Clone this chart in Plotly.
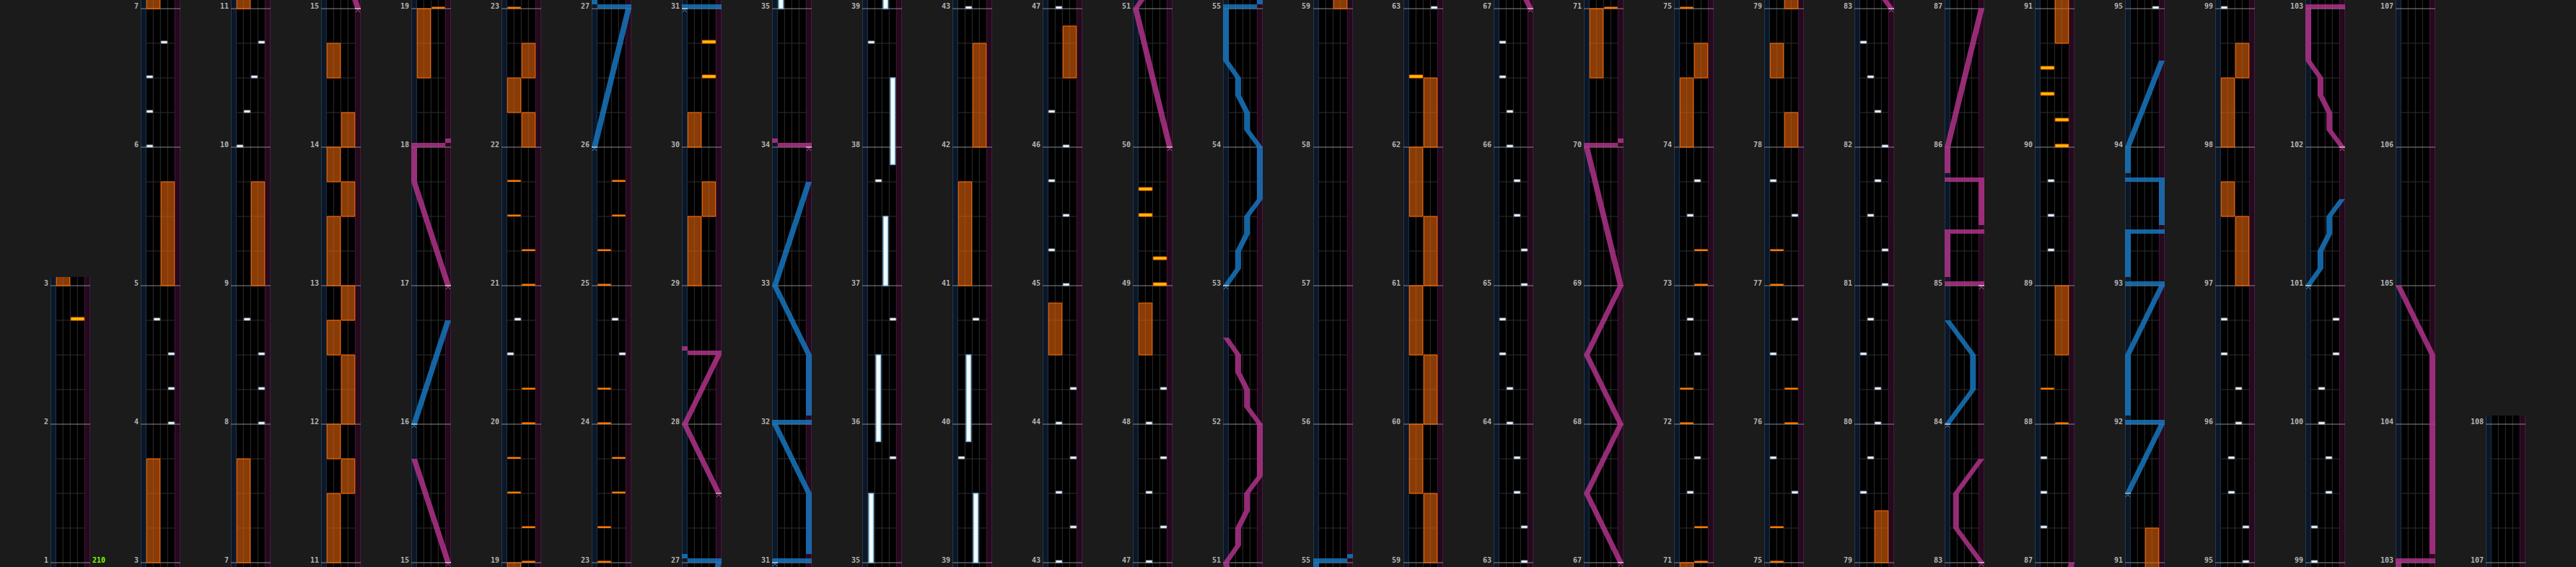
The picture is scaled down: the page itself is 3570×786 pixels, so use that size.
import plotly.graph_objects as go

# ---------------- chart data ----------------
bpm_label = "210"

# BT chips: (measure time, lane 0..3)
bt_chips = [
    (4.0, 3), (4.25, 3), (4.5, 3), (4.75, 1),
    (6.0, 0), (6.25, 0), (6.5, 0), (6.75, 2),
    (8.0, 3), (8.25, 3), (8.5, 3), (8.75, 1),
    (10.0, 0), (10.25, 1), (10.5, 2), (10.75, 3),
    (20.5, 0), (20.75, 1),
    (24.5, 3), (24.75, 2),
    (35.75, 3), (36.75, 3), (37.75, 1), (38.75, 0), (39.75, 0), (40.75, 2),
    (43.0, 1), (43.25, 3), (43.5, 1), (43.75, 3), (44.0, 1), (44.25, 3),
    (45.0, 2), (45.25, 0), (45.5, 2), (45.75, 0), (46.0, 2), (46.25, 0),
    (47.0, 1), (47.25, 3), (47.5, 1), (47.75, 3), (48.0, 1), (48.25, 3),
    (63.0, 3), (63.25, 3), (63.5, 2), (63.75, 2),
    (64.0, 1), (64.25, 1), (64.5, 0), (64.75, 0),
    (65.0, 3), (65.25, 3), (65.5, 2), (65.75, 2),
    (66.0, 1), (66.25, 1), (66.5, 0), (66.75, 0),
    (71.5, 1), (71.75, 2), (72.5, 2), (72.75, 1), (73.5, 1), (73.75, 2),
    (75.5, 3), (75.75, 0), (76.5, 0), (76.75, 3), (77.5, 3), (77.75, 0),
    (79.5, 0), (79.75, 1),
    (80.0, 2), (80.25, 2), (80.5, 0), (80.75, 1),
    (81.0, 3), (81.25, 3), (81.5, 1), (81.75, 2),
    (82.0, 3), (82.25, 2), (82.5, 1), (82.75, 0),
    (87.25, 0), (87.5, 0), (87.75, 0),
    (89.25, 1), (89.5, 1), (89.75, 1),
    (95.0, 3), (95.25, 3), (95.5, 1), (95.75, 1),
    (96.0, 2), (96.25, 2), (96.5, 0), (96.75, 0),
    (99.0, 0), (99.25, 0), (99.5, 2), (99.75, 2),
    (100.0, 1), (100.25, 1), (100.5, 3), (100.75, 3),
]

# FX chips: (time, side 0=L 1=R, kind 0=plain 1=effect)
fx_chips = [
    (2.75, 1, 1),
    (19.0, 1, 0), (19.25, 1, 0), (19.5, 0, 0), (19.75, 0, 0),
    (20.0, 1, 0), (20.25, 1, 0),
    (21.0, 1, 0), (21.25, 1, 0), (21.5, 0, 0), (21.75, 0, 0),
    (23.0, 0, 0), (23.25, 0, 0), (23.5, 1, 0), (23.75, 1, 0),
    (24.0, 0, 0), (24.25, 0, 0),
    (25.0, 0, 0), (25.25, 0, 0), (25.5, 1, 0), (25.75, 1, 0),
    (30.5, 1, 1), (30.75, 1, 1),
    (49.0, 1, 1), (49.1875, 1, 1), (49.5, 0, 1), (49.6875, 0, 1),
    (62.5, 0, 1),
    (71.0, 1, 0), (71.25, 1, 0), (72.0, 0, 0), (72.25, 0, 0), (73.0, 1, 0), (73.25, 1, 0),
    (75.0, 0, 0), (75.25, 0, 0), (76.0, 1, 0), (76.25, 1, 0), (77.0, 0, 0), (77.25, 0, 0),
    (88.0, 1, 0), (88.25, 0, 0),
    (90.0, 1, 1), (90.1875, 1, 1), (90.375, 0, 1), (90.5625, 0, 1),
]

# FX holds: (start, end, side)
fx_holds = [
    (3.0, 3.75, 0), (5.0, 5.75, 1), (7.0, 7.75, 0), (9.0, 9.75, 1),
    (11.0, 11.5, 0), (11.5, 11.75, 1), (11.75, 12.0, 0), (12.0, 12.5, 1),
    (12.5, 12.75, 0), (12.75, 13.0, 1), (13.0, 13.5, 0), (13.5, 13.75, 1),
    (13.75, 14.0, 0), (14.0, 14.25, 1), (14.5, 14.75, 0),
    (18.5, 19.0, 0),
    (22.0, 22.25, 1), (22.25, 22.5, 0), (22.5, 22.75, 1),
    (29.0, 29.5, 0), (29.5, 29.75, 1), (30.0, 30.25, 0),
    (41.0, 41.75, 0), (42.0, 42.75, 1),
    (44.5, 44.875, 0), (46.5, 46.875, 1), (48.5, 48.875, 0),
    (59.0, 59.5, 1), (59.5, 60.0, 0), (60.0, 60.5, 1), (60.5, 61.0, 0),
    (61.0, 61.5, 1), (61.5, 62.0, 0), (62.0, 62.5, 1),
    (70.5, 71.0, 0),
    (74.0, 74.5, 0), (74.5, 74.75, 1),
    (78.0, 78.25, 1), (78.5, 78.75, 0), (79.0, 79.375, 1),
    (88.5, 89.0, 1), (90.75, 91.25, 1),
    (97.0, 97.5, 1), (97.5, 97.75, 0), (98.0, 98.5, 0), (98.5, 98.75, 1),
]

# BT holds: (start, end, lane)
bt_holds = [
    (35.0, 35.5, 0), (35.875, 36.5, 1), (37.0, 37.5, 2),
    (37.875, 38.5, 3), (39.0, 39.5, 2), (39.875, 40.5, 1),
]

# Lasers: lists of (time, position 0..1); equal times = slam
left_lasers = [
    [(16, 0), (16.75, 1)],
    [(26, 0), (27, 1), (27, 0)],
    [(31, 0), (31, 1), (31.5, 1), (32, 0), (32, 1), (32.5, 1), (33, 0), (33.75, 1)],
    [(53, 0), (53.125, 0.36), (53.25, 0.36), (53.375, 0.62), (53.5, 0.62), (53.625, 1),
     (54, 1), (54.125, 0.62), (54.25, 0.62), (54.375, 0.36), (54.5, 0.36), (54.625, 0),
     (55, 0), (55, 1)],
    [(84, 0), (84.25, 0.75), (84.5, 0.75), (84.75, 0)],
    [(91.5, 0), (92, 1), (92, 0), (92.5, 0), (93, 1), (93, 0), (93.375, 0), (93.375, 1),
     (93.75, 1), (93.75, 0), (94, 0), (94.625, 1)],
    [(101, 0), (101.125, 0.36), (101.25, 0.36), (101.375, 0.62), (101.5, 0.62), (101.625, 1)],
]
right_lasers = [
    [(15, 1), (15.75, 0)],
    [(17, 1), (17.75, 0), (18, 0), (18, 1)],
    [(27.5, 1), (28, 0), (28.5, 1), (28.5, 0)],
    [(34, 1), (34, 0)],
    [(50, 1), (51, 0), (51.125, 0.36), (51.25, 0.36), (51.375, 0.62), (51.5, 0.62), (51.625, 1),
     (52, 1), (52.125, 0.62), (52.25, 0.62), (52.375, 0.36), (52.5, 0.36), (52.625, 0)],
    [(67, 1), (67.5, 0), (68, 1), (68.5, 0), (69, 1), (70, 0), (70, 1)],
    [(83, 1), (83.25, 0.25), (83.5, 0.25), (83.75, 1)],
    [(85, 1), (85, 0), (85.375, 0), (85.375, 1), (85.75, 1), (85.75, 0), (86, 0), (87, 1)],
    [(102, 1), (102.125, 0.62), (102.25, 0.62), (102.375, 0.36), (102.5, 0.36), (102.625, 0),
     (103, 0), (103, 1), (104.5, 1), (105, 0)],
]

# columns: (first measure line, last measure line)
columns = [(1, 3)] + [(4 * k - 1, 4 * k + 3) for k in range(1, 27)] + [(107, 108)]

# ---------------- geometry & style ----------------
W, H = 3570, 786
PXM = 192.0
COL_LEFT, COL_STEP, COL_W = 70, 125, 55
LL_W = 7.3
BT_LEFT, BT_W = 7.3, 10.0
RL_LEFT = 47.3
PAD_BOT, PAD_TOP = 6 / PXM, 12 / PXM
HW = 4.0
SLAM_H, TAIL_H = 6 / PXM, 12 / PXM

BG = '#1b1b1b'
L_FILL, L_EDGE = '#0c1626', '#1d3a52'
R_FILL, R_EDGE = '#230a1c', '#4a1840'
GRID = '#2e2e2e'
MLINE = '#8a8a8a'
LABEL = '#b4b4b4'
BLUE = 'rgba(24,122,196,0.82)'
PINK = 'rgba(182,52,142,0.82)'
BLUE_MARK = '#3c8fd0'
PINK_MARK = '#c455a5'


def cx(p):
    return 4 + 47 * p


shapes = []
annotations = []
traces = []
axes = {}


def rect(xr, yr, x0, x1, t0, t1, fill, line=None, lw=0, layer='below'):
    shapes.append(dict(type='rect', xref=xr, yref=yr, x0=x0, x1=x1, y0=t0, y1=t1,
                       fillcolor=fill, layer=layer,
                       line=dict(color=line or 'rgba(0,0,0,0)', width=lw)))


def path(xr, yr, d, line=None, lw=1, fill=None, layer='below'):
    shapes.append(dict(type='path', xref=xr, yref=yr, path=d, layer=layer,
                       fillcolor=fill or 'rgba(0,0,0,0)',
                       line=dict(color=line or 'rgba(0,0,0,0)', width=lw)))


def laser_polys(pts):
    polys = []
    for (t0, p0), (t1, p1) in zip(pts[:-1], pts[1:]):
        c0, c1 = cx(p0), cx(p1)
        if t1 == t0:
            a, b = min(c0, c1) - HW, max(c0, c1) + HW
            polys.append([(a, t0), (b, t0), (b, t0 + SLAM_H), (a, t0 + SLAM_H)])
            polys.append([(c1 - HW, t0), (c1 + HW, t0), (c1 + HW, t0 + TAIL_H), (c1 - HW, t0 + TAIL_H)])
        else:
            polys.append([(c0 - HW, t0), (c0 + HW, t0), (c1 + HW, t1), (c1 - HW, t1)])
    return polys


def poly_d(polys):
    out = []
    for pl in polys:
        out.append('M' + 'L'.join(f'{x:.3f},{y:.5f}' for x, y in pl) + 'Z')
    return ''.join(out)


for k, (m0, m1) in enumerate(columns):
    sfx = '' if k == 0 else str(k + 1)
    xr, yr = 'x' + sfx, 'y' + sfx
    lo, hi = m0 - PAD_BOT, m1 + PAD_TOP
    left_px = COL_LEFT + k * COL_STEP
    axes['xaxis' + sfx] = dict(domain=[left_px / W, (left_px + COL_W) / W], range=[0, COL_W],
                               anchor=yr, visible=False, fixedrange=True)
    axes['yaxis' + sfx] = dict(domain=[0, min(1.0, (hi - lo) * PXM / H)], range=[lo, hi],
                               anchor=xr, visible=False, fixedrange=True)
    traces.append(go.Scatter(x=[None], y=[None], xaxis=xr, yaxis=yr, showlegend=False,
                             hoverinfo='skip'))

    # lane backgrounds
    rect(xr, yr, 0, LL_W, lo, hi, L_FILL)
    rect(xr, yr, RL_LEFT, COL_W, lo, hi, R_FILL)
    path(xr, yr, f'M0.5,{lo}L0.5,{hi}M{LL_W},{lo}L{LL_W},{hi}', line=L_EDGE, lw=1)
    path(xr, yr, f'M{RL_LEFT},{lo}L{RL_LEFT},{hi}M{COL_W-0.5},{lo}L{COL_W-0.5},{hi}', line=R_EDGE, lw=1)

    # grid: lane dividers + beat lines
    segs = []
    for i in (1, 2, 3):
        x = BT_LEFT + i * BT_W
        segs.append(f'M{x},{lo}L{x},{hi}')
    q = int(lo * 4) - 1
    while q / 4 <= hi:
        t = q / 4
        if lo <= t <= hi and q % 4 != 0:
            segs.append(f'M{BT_LEFT},{t}L{RL_LEFT},{t}')
        q += 1
    path(xr, yr, ''.join(segs), line=GRID, lw=1)

    # measure lines + labels
    segs = []
    for m in range(m0, m1 + 1):
        segs.append(f'M0,{m}L{COL_W},{m}')
        annotations.append(dict(xref='paper', yref=yr, x=(left_px - 1.5) / W, y=m,
                                xanchor='right', yanchor='middle', yshift=4,
                                text=f'<b>{m}</b>', showarrow=False,
                                font=dict(family='DejaVu Sans Mono', size=10, color=LABEL)))
    path(xr, yr, ''.join(segs), line=MLINE, lw=1)

    def vis(t0, t1):
        return t1 >= lo and t0 <= hi

    # FX holds
    for t0, t1, side in fx_holds:
        if vis(t0, t1):
            x0 = BT_LEFT + side * 2 * BT_W
            rect(xr, yr, x0 + 1, x0 + 19.4, t0, t1, 'rgba(230,100,10,0.6)', '#ff6a00', 1)
    # BT holds
    for t0, t1, lane in bt_holds:
        if vis(t0, t1):
            c = BT_LEFT + (lane + 0.5) * BT_W
            rect(xr, yr, c - 3.2, c + 3.2, t0, t1, '#f4fbff', '#8cc0e0', 1.5)
    # FX chips
    for t, side, kind in fx_chips:
        if vis(t, t + 0.03):
            x0 = BT_LEFT + side * 2 * BT_W
            if kind == 0:
                rect(xr, yr, x0 + 1, x0 + 19.4, t, t + 2.5 / PXM, '#ff7a00')
            else:
                rect(xr, yr, x0 + 1, x0 + 19.4, t, t + 4 / PXM, '#ffc000', '#ff6a00', 1)
    # BT chips
    for t, lane in bt_chips:
        if vis(t, t + 0.03):
            x0 = BT_LEFT + lane * BT_W
            rect(xr, yr, x0 + 1, x0 + 9.4, t, t + 3 / PXM, '#ffffff', '#97adc4', 1)

    # lasers
    for lasers, col, mark in ((left_lasers, BLUE, BLUE_MARK), (right_lasers, PINK, PINK_MARK)):
        for pts in lasers:
            polys = [pl for pl in laser_polys(pts)
                     if vis(min(p[1] for p in pl), max(p[1] for p in pl))]
            if polys:
                path(xr, yr, poly_d(polys), fill=col, lw=0, layer='above')
            t, p = pts[0]
            if vis(t - 0.05, t):
                c = cx(p)
                path(xr, yr, f'M{c-4},{t}L{c+4},{t}', line='#ffffff', lw=1, layer='above')
                path(xr, yr, f'M{c-3},{t-5/PXM}L{c},{t-1.5/PXM}L{c+3},{t-5/PXM}',
                     line=mark, lw=1, layer='above')

# BPM label
annotations.append(dict(xref='paper', yref='y', x=(COL_LEFT + COL_W + 1) / W, y=1,
                        xanchor='left', yanchor='middle', yshift=4,
                        text=f'<b>{bpm_label}</b>', showarrow=False,
                        font=dict(family='DejaVu Sans Mono', size=10, color='#7cfc00')))

fig = go.Figure(data=traces)
fig.update_layout(width=W, height=H, margin=dict(l=0, r=0, t=0, b=0),
                  paper_bgcolor=BG, plot_bgcolor='#000000', showlegend=False,
                  shapes=shapes, annotations=annotations, **axes)
fig.write_html("out.html", config={'displayModeBar': False},
               post_script="document.body.style.margin='0';document.body.style.overflow='hidden';"
                           "document.documentElement.style.background='#1b1b1b';")
